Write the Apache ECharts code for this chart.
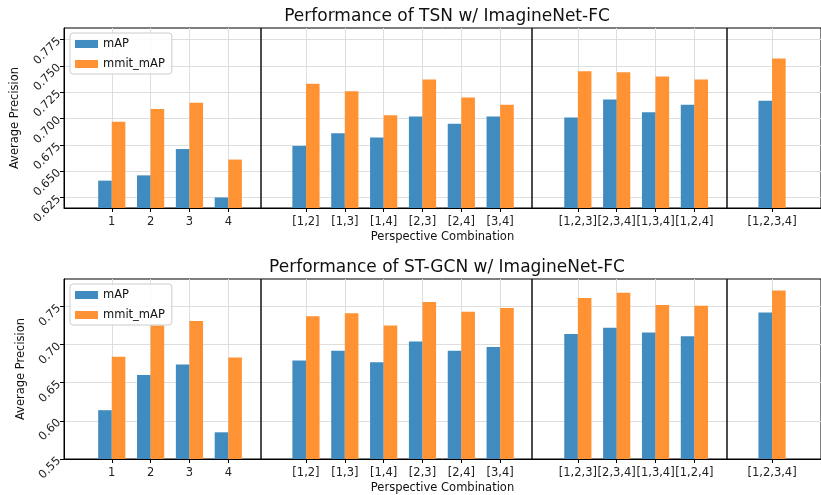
<!DOCTYPE html>
<html>
<head>
<meta charset="utf-8">
<script src="https://cdn.jsdelivr.net/npm/echarts@6/dist/echarts.min.js"></script>
<style>
html,body{margin:0;padding:0;background:#fff;}
#c{width:821px;height:495px;}
</style>
</head>
<body>
<div id="c"></div>
<script>
// ---- data ----
const positions = [0, 1, 2, 3, 5, 6, 7, 8, 9, 10, 12, 13, 14, 15, 17];
const categories = ['1', '2', '3', '4', '[1,2]', '[1,3]', '[1,4]', '[2,3]', '[2,4]', '[3,4]', '[1,2,3]', '[2,3,4]', '[1,3,4]', '[1,2,4]', '[1,2,3,4]'];
const separators = [4, 11, 16];

const tsnMAP  = [0.641, 0.646, 0.671, 0.625, 0.674, 0.686, 0.682, 0.702, 0.695, 0.702, 0.701, 0.718, 0.706, 0.713, 0.717];
const tsnMmit = [0.697, 0.709, 0.715, 0.661, 0.733, 0.726, 0.703, 0.737, 0.720, 0.713, 0.745, 0.744, 0.740, 0.737, 0.757];
const stMAP   = [0.614, 0.660, 0.674, 0.585, 0.679, 0.692, 0.677, 0.704, 0.692, 0.697, 0.714, 0.722, 0.716, 0.711, 0.742];
const stMmit  = [0.684, 0.725, 0.731, 0.683, 0.737, 0.741, 0.725, 0.756, 0.743, 0.748, 0.761, 0.768, 0.752, 0.751, 0.771];

const tsnTicks = [0.625, 0.650, 0.675, 0.700, 0.725, 0.750, 0.775];
const stTicks  = [0.55, 0.60, 0.65, 0.70, 0.75];

const titles = ['Performance of TSN w/ ImagineNet-FC', 'Performance of ST-GCN w/ ImagineNet-FC'];
const seriesNames = ['mAP', 'mmit_mAP'];

// ---- chart ----
const FONT = 'DejaVu Sans';
const FS = 11.5;
const BLUE = '#408bbf';
const ORANGE = '#ff9232';
const GRIDC = '#dedede';

const chart = echarts.init(document.getElementById('c'), null, {renderer: 'canvas'});

const grids = [
  {left: 64, top: 28, width: 766, height: 180},
  {left: 64, top: 279, width: 766, height: 181}
];
const yLims = [[0.615, 0.786], [0.55, 0.786]];
const yTicks = [tsnTicks, stTicks];
const yDec = [3, 2];
const dataSets = [[tsnMAP, tsnMmit], [stMAP, stMmit]];

function pairs(vals) { return positions.map((p, i) => [p, vals[i]]); }

const option = {
  animation: false,
  backgroundColor: '#fff',
  textStyle: {fontFamily: FONT},
  title: titles.map((t, i) => ({
    text: t,
    left: 447,
    textAlign: 'center',
    top: i === 0 ? 8 : 259,
    padding: 0,
    textStyle: {fontFamily: FONT, fontSize: 17, fontWeight: 'normal', color: '#111'}
  })),
  legend: [0, 1].map(i => ({
    data: seriesNames.slice(),
    orient: 'vertical',
    left: 70,
    top: grids[i].top + 5,
    itemWidth: 23,
    itemHeight: 8,
    itemGap: 8,
    icon: 'rect',
    padding: [5, 7, 4, 5],
    borderColor: '#cccccc',
    borderWidth: 1,
    borderRadius: 3,
    backgroundColor: 'rgba(255,255,255,0.85)',
    textStyle: {fontFamily: FONT, fontSize: FS, color: '#111'},
    selectedMode: false
  })),
  grid: grids.map(g => Object.assign({show: true, borderColor: '#000', borderWidth: 1, backgroundColor: 'transparent'}, g)),
  xAxis: [0, 1].map(i => ({
    type: 'value',
    gridIndex: i,
    min: -1.23,
    max: 18.26,
    name: 'Perspective Combination',
    nameLocation: 'middle',
    nameGap: 23,
    nameTextStyle: {fontFamily: FONT, fontSize: FS, color: '#111'},
    axisLine: {show: true, onZero: false, lineStyle: {color: '#000'}},
    axisTick: {show: true, length: 4, lineStyle: {color: '#000'}, customValues: positions},
    axisLabel: {
      show: true, margin: 8, fontFamily: FONT, fontSize: FS, color: '#222',
      customValues: positions,
      formatter: v => { const k = positions.indexOf(v); return k >= 0 ? categories[k] : ''; }
    },
    splitLine: {show: true, lineStyle: {color: GRIDC, width: 1}}
  })),
  yAxis: [0, 1].map(i => ({
    type: 'value',
    gridIndex: i,
    min: yLims[i][0],
    max: yLims[i][1],
    name: 'Average Precision',
    nameLocation: 'middle',
    nameRotate: 90,
    nameGap: i === 0 ? 43 : 37,
    nameTextStyle: {fontFamily: FONT, fontSize: FS, color: '#111'},
    axisLine: {show: true, onZero: false, lineStyle: {color: '#000'}},
    axisTick: {show: true, length: 4, lineStyle: {color: '#000'}, customValues: yTicks[i]},
    axisLabel: {
      show: true, rotate: 45, margin: 5, fontFamily: FONT, fontSize: FS, color: '#222',
      customValues: yTicks[i],
      formatter: v => v.toFixed(yDec[i])
    },
    splitLine: {show: true, lineStyle: {color: GRIDC, width: 1}}
  })),
  series: []
};

[0, 1].forEach(i => {
  seriesNames.forEach((name, s) => {
    const ser = {
      type: 'bar',
      name: name,
      xAxisIndex: i,
      yAxisIndex: i,
      data: pairs(dataSets[i][s]),
      barWidth: '35%',
      barGap: '0%',
      clip: true,
      itemStyle: {color: s === 0 ? BLUE : ORANGE},
      z: 3
    };
    if (s === 0) {
      ser.markLine = {
        silent: true,
        symbol: 'none',
        label: {show: false},
        lineStyle: {color: '#111', width: 1.5, type: 'solid'},
        data: separators.map(x => ({xAxis: x}))
      };
    }
    option.series.push(ser);
  });
});

chart.setOption(option);
</script>
</body>
</html>
